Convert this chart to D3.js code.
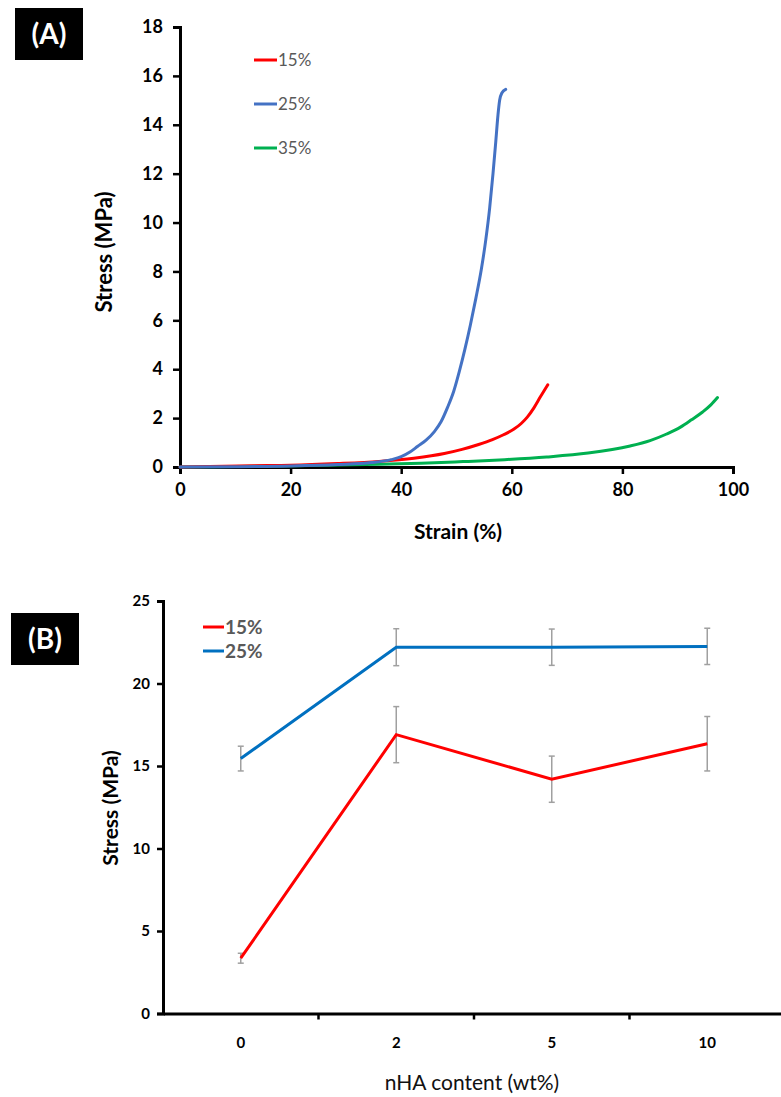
<!DOCTYPE html>
<html>
<head>
<meta charset="utf-8">
<script src="https://cdn.jsdelivr.net/npm/d3@7"></script>
<style>
  body { margin: 0; background: #fff; }
  svg { display: block; font-family: Lato, "Open Sans", sans-serif; }
</style>
</head>
<body>
<div id="chartDiv"></div>
<script>
// ---- panel A data: stress-strain curves ----
var seriesNames = ["15%", "25%", "35%"];
var strain15 = [0, 13.4, 20, 28.5, 36, 42.3, 47.8, 51, 54, 56.5, 58.5, 60.4, 61.7, 62.8, 64, 65.2, 66.5];
var stress15 = [0, 0.05, 0.07, 0.14, 0.23, 0.36, 0.55, 0.72, 0.92, 1.12, 1.32, 1.55, 1.78, 2.04, 2.42, 2.88, 3.36];
var strain25 = [0, 10, 20, 28.5, 34.6, 38.2, 40, 41.5, 43, 44.5, 46, 47.2, 48.4, 49.5, 50.5, 51.5, 52.5, 53.5, 54.5, 55.3, 56, 56.6, 57.1, 57.5, 57.8, 58.2, 58.9];
var stress25 = [0, 0.01, 0.04, 0.1, 0.18, 0.3, 0.42, 0.6, 0.85, 1.1, 1.45, 1.85, 2.45, 3.1, 3.9, 4.8, 5.8, 6.9, 8.1, 9.3, 10.6, 12.0, 13.3, 14.4, 15.0, 15.3, 15.45];
var strain35 = [0, 10, 21, 36.1, 43.6, 51.2, 58.7, 66.3, 73.8, 81.4, 85, 88, 90.5, 92.5, 94.5, 96, 97.2];
var stress35 = [0, 0.02, 0.05, 0.11, 0.15, 0.22, 0.30, 0.41, 0.57, 0.86, 1.08, 1.35, 1.63, 1.93, 2.25, 2.54, 2.84];
var xTicksA = [0, 20, 40, 60, 80, 100];
var yTicksA = [0, 2, 4, 6, 8, 10, 12, 14, 16, 18];

// ---- panel B data: stress vs nHA content ----
var nhaCategories = ["0", "2", "5", "10"];
var groupNames = ["15%", "25%"];
var mean15 = [3.35, 16.9, 14.2, 16.35];
var err15 = [0.3, 1.7, 1.4, 1.65];
var mean25 = [15.45, 22.2, 22.2, 22.25];
var err25 = [0.75, 1.12, 1.1, 1.1];
var yTicksB = [0, 5, 10, 15, 20, 25];

var width = 781, height = 1097;
var colorsA = ["#ff0000", "#4472c4", "#00b050"];
var colorsB = ["#ff0000", "#0070c0"];

var svg = d3.select("#chartDiv").append("svg")
  .attr("width", width).attr("height", height);

function panelLabel(x, y, w, h, txt) {
  svg.append("rect").attr("x", x).attr("y", y).attr("width", w).attr("height", h).attr("fill", "#000");
  svg.append("text").attr("x", x + w / 2).attr("y", y + h / 2 + 10)
    .attr("text-anchor", "middle").attr("fill", "#fff")
    .style("font-size", "28px").style("font-weight", "bold").text(txt);
}

function styleAxis(g, size) {
  g.select(".domain").attr("stroke", "#000").attr("stroke-width", 3);
  g.selectAll(".tick line").attr("stroke", "#000").attr("stroke-width", 2.5);
  g.selectAll(".tick text").attr("fill", "#000")
    .style("font-size", size).style("font-weight", "bold").style("font-family", "Lato, sans-serif");
}

// ================= Panel A =================
panelLabel(15, 8, 68, 52, "(A)");

var xA = d3.scaleLinear().domain([0, 100]).range([180, 733]);
var yA = d3.scaleLinear().domain([0, 18]).range([467, 27]);

var gyA = svg.append("g").attr("transform", "translate(180,0)")
  .call(d3.axisLeft(yA).tickValues(yTicksA).tickSizeOuter(0).tickSize(7).tickPadding(10));
var gxA = svg.append("g").attr("transform", "translate(0,467)")
  .call(d3.axisBottom(xA).tickValues(xTicksA).tickSizeOuter(0).tickSize(7).tickPadding(9));
styleAxis(gyA, "18px");
styleAxis(gxA, "18px");

var lineA = d3.line()
  .x(function(d) { return xA(d[0]); })
  .y(function(d) { return yA(d[1]); })
  .curve(d3.curveMonotoneX);

var curvesA = [d3.zip(strain15, stress15), d3.zip(strain25, stress25), d3.zip(strain35, stress35)];
// green first, then red, then blue on top
[2, 0, 1].forEach(function(i) {
  svg.append("path").datum(curvesA[i])
    .attr("d", lineA).attr("fill", "none")
    .attr("stroke", colorsA[i]).attr("stroke-width", 3)
    .attr("stroke-linecap", "round");
});

// legend A
seriesNames.forEach(function(n, i) {
  var ly = 60 + i * 44;
  svg.append("line").attr("x1", 254).attr("x2", 277).attr("y1", ly).attr("y2", ly)
    .attr("stroke", colorsA[i]).attr("stroke-width", 3);
  svg.append("text").attr("x", 278).attr("y", ly + 6)
    .attr("fill", "#595959").style("font-size", "17px").text(n);
});

svg.append("text").attr("text-anchor", "middle")
  .attr("transform", "translate(112,252) rotate(-90)")
  .style("font-size", "22px").style("font-weight", "bold").text("Stress (MPa)");
svg.append("text").attr("text-anchor", "middle").attr("x", 458).attr("y", 539)
  .style("font-size", "21px").style("font-weight", "bold").text("Strain (%)");

// ================= Panel B =================
panelLabel(11, 613, 68, 52, "(B)");

var xB = d3.scaleBand().domain(nhaCategories).range([163, 785]);
var yB = d3.scaleLinear().domain([0, 25]).range([1013.5, 601]);

var gyB = svg.append("g").attr("transform", "translate(163,0)")
  .call(d3.axisLeft(yB).tickValues(yTicksB).tickSizeOuter(0).tickSize(6).tickPadding(7));
var gxB = svg.append("g").attr("transform", "translate(0,1013.5)")
  .call(d3.axisBottom(xB).tickSize(0).tickPadding(24));
// category boundary ticks
gxB.selectAll(".sep").data(nhaCategories.slice(1)).enter().append("line")
  .attr("x1", function(d) { return xB(d); }).attr("x2", function(d) { return xB(d); })
  .attr("y1", 0).attr("y2", 6).attr("stroke", "#000").attr("stroke-width", 2.5);
styleAxis(gyB, "15px");
styleAxis(gxB, "15px");

var cx = function(c) { return xB(c) + xB.bandwidth() / 2; };
var groupsB = [
  { means: mean15, errs: err15 },
  { means: mean25, errs: err25 }
];

groupsB.forEach(function(g) {
  var eb = svg.append("g").attr("stroke", "#a0a0a0").attr("stroke-width", 1.5);
  nhaCategories.forEach(function(c, j) {
    var x = cx(c), top = yB(g.means[j] + g.errs[j]), bot = yB(g.means[j] - g.errs[j]);
    eb.append("line").attr("x1", x).attr("x2", x).attr("y1", top).attr("y2", bot);
    eb.append("line").attr("x1", x - 3).attr("x2", x + 3).attr("y1", top).attr("y2", top);
    eb.append("line").attr("x1", x - 3).attr("x2", x + 3).attr("y1", bot).attr("y2", bot);
  });
});

var lineB = d3.line()
  .x(function(d) { return cx(d[0]); })
  .y(function(d) { return yB(d[1]); });

groupsB.forEach(function(g, i) {
  svg.append("path").datum(d3.zip(nhaCategories, g.means))
    .attr("d", lineB).attr("fill", "none")
    .attr("stroke", colorsB[i]).attr("stroke-width", 3);
});

// legend B
groupNames.forEach(function(n, i) {
  var ly = 627 + i * 24;
  svg.append("line").attr("x1", 203).attr("x2", 224).attr("y1", ly).attr("y2", ly)
    .attr("stroke", colorsB[i]).attr("stroke-width", 3);
  svg.append("text").attr("x", 225).attr("y", ly + 7)
    .attr("fill", "#595959").style("font-size", "19px").style("font-weight", "bold").text(n);
});

svg.append("text").attr("text-anchor", "middle")
  .attr("transform", "translate(118,808) rotate(-90)")
  .style("font-size", "21px").style("font-weight", "bold").text("Stress (MPa)");
svg.append("text").attr("text-anchor", "middle").attr("x", 472).attr("y", 1090)
  .attr("fill", "#111").style("font-size", "21px").text("nHA content (wt%)");
</script>
</body>
</html>
